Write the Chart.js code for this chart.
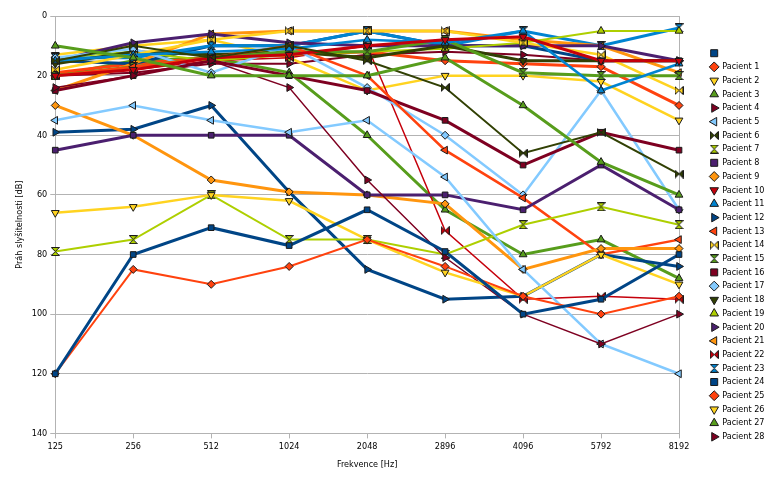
<!doctype html>
<html>
<head>
<meta charset="utf-8">
<title>Práh slyšitelnosti</title>
<script src="https://cdn.jsdelivr.net/npm/chart.js"></script>
<style>
  html, body { margin: 0; padding: 0; background: #fff; }
  #wrap { width: 768px; height: 480px; }
</style>
</head>
<body>
<div id="wrap"><canvas id="chart" width="768" height="480"></canvas></div>
<script>
const frequencies = ['125', '256', '512', '1024', '2048', '2896', '4096', '5792', '8192'];

// prah slysitelnosti v dB, jedna rada na pacienta
const pacient0  = [120, 80, 71, 77, 65, 79, 100, 95, 80];
const pacient1  = [120, 85, 90, 84, 75, 84, 94, 100, 94];
const pacient2  = [66, 64, 60, 62, 75, 86, 94, 80, 90];
const pacient3  = [10, 14, 20, 20, 20, 14, 30, 49, 60];
const pacient4  = [24, 20, 15, 24, 55, 81, 100, 110, 100];
const pacient5  = [35, 30, 35, 39, 35, 54, 85, 110, 120];
const pacient6  = [15, 10, 14, 10, 15, 24, 46, 39, 53];
const pacient7  = [79, 75, 60, 75, 75, 80, 70, 64, 70];
const pacient8  = [45, 40, 40, 40, 60, 60, 65, 50, 65];
const pacient9  = [30, 40, 55, 59, 60, 63, 85, 78, 78];
const pacient10 = [20, 18, 14, 13, 10, 8, 7, 15, 15];
const pacient11 = [15, 13, 12, 11, 8, 9, 5, 25, 16];
const pacient12 = [39, 38, 30, 59, 85, 95, 94, 80, 84];
const pacient13 = [20, 17, 14, 10, 20, 45, 61, 80, 75];
const pacient14 = [18, 13, 8, 5, 5, 5, 9, 13, 25];
const pacient15 = [20, 17, 14, 12, 12, 8, 19, 20, 20];
const pacient16 = [25, 20, 15, 20, 25, 35, 50, 39, 45];
const pacient17 = [14, 11, 19, 10, 24, 40, 60, 25, 65];
const pacient18 = [16, 12, 13, 12, 14, 10, 15, 15, 15];
const pacient19 = [14, 12, 15, 13, 12, 11, 9, 5, 5];
const pacient20 = [15, 9, 6, 9, 10, 10, 10, 10, 15];
const pacient21 = [25, 16, 6, 5, 5, 5, 8, 10, 19];
const pacient22 = [20, 18, 15, 14, 10, 72, 95, 94, 95];
const pacient23 = [14, 14, 10, 10, 5, 10, 5, 10, 4];
const pacient24 = [15, 16, 10, 10, 5, 10, 10, 15, 15];
const pacient25 = [19, 16, 14, 13, 12, 15, 16, 17, 30];
const pacient26 = [13, 10, 8, 14, 25, 20, 20, 22, 35];
const pacient27 = [20, 15, 14, 19, 40, 65, 80, 75, 88];
const pacient28 = [20, 19, 16, 16, 13, 12, 13, 15, 15];

const seriesNames = [''].concat(Array.from({ length: 28 }, (_, i) => 'Pacient ' + (i + 1)));
const seriesValues = [pacient0, pacient1, pacient2, pacient3, pacient4, pacient5, pacient6, pacient7,
  pacient8, pacient9, pacient10, pacient11, pacient12, pacient13, pacient14, pacient15, pacient16,
  pacient17, pacient18, pacient19, pacient20, pacient21, pacient22, pacient23, pacient24, pacient25,
  pacient26, pacient27, pacient28];

// paleta a symboly se opakuji jako v kancelarskem grafu
const palette = ['#004586', '#ff420e', '#ffd320', '#579d1c', '#7e0021', '#83caff', '#314004',
  '#aecf00', '#4b1f6f', '#ff950e', '#c5000b', '#0084d1'];
const symbols = ['square', 'diamond', 'down', 'up', 'right', 'left', 'bowtie', 'hourglass'];
const lineWidths = [3, 2, 2.5, 3, 1.5, 2.5, 2, 2, 3, 3, 3, 2.5, 3, 2.5, 2.5, 3, 3, 2.5, 3, 2, 3, 3,
  1.5, 3, 3, 3, 2.5, 3, 2];

const FONT = "'Liberation Sans Narrow', 'DejaVu Sans Condensed', 'Liberation Sans', sans-serif";

function makeMarker(kind, fill) {
  const s = 9;
  const c = document.createElement('canvas');
  c.width = s; c.height = s;
  const g = c.getContext('2d');
  g.beginPath();
  if (kind === 'bowtie') {
    g.moveTo(0.5, 0.5); g.lineTo(s / 2, s / 2); g.lineTo(0.5, s - 0.5); g.closePath();
    g.moveTo(s - 0.5, 0.5); g.lineTo(s / 2, s / 2); g.lineTo(s - 0.5, s - 0.5); g.closePath();
  } else {
    g.moveTo(0.5, 0.5); g.lineTo(s - 0.5, 0.5); g.lineTo(s / 2, s / 2); g.closePath();
    g.moveTo(0.5, s - 0.5); g.lineTo(s - 0.5, s - 0.5); g.lineTo(s / 2, s / 2); g.closePath();
  }
  g.fillStyle = fill; g.fill();
  g.strokeStyle = '#1a1a1a'; g.lineWidth = 1; g.stroke();
  return c;
}

function pointOpts(kind, color) {
  switch (kind) {
    case 'square': return { pointStyle: 'rect', pointRotation: 0, pointRadius: 4 };
    case 'diamond': return { pointStyle: 'rectRot', pointRotation: 0, pointRadius: 4 };
    case 'down': return { pointStyle: 'triangle', pointRotation: 180, pointRadius: 4.5 };
    case 'up': return { pointStyle: 'triangle', pointRotation: 0, pointRadius: 4.5 };
    case 'right': return { pointStyle: 'triangle', pointRotation: 90, pointRadius: 4.5 };
    case 'left': return { pointStyle: 'triangle', pointRotation: 270, pointRadius: 4.5 };
    default: return { pointStyle: makeMarker(kind, color), pointRotation: 0, pointRadius: 4.5 };
  }
}

const datasets = seriesValues.map((values, i) => {
  const color = palette[i % palette.length];
  return Object.assign({
    label: seriesNames[i],
    data: values,
    borderColor: color,
    backgroundColor: color,
    borderWidth: lineWidths[i],
    pointBackgroundColor: color,
    pointBorderColor: '#1a1a1a',
    pointBorderWidth: 1,
    tension: 0,
    clip: false
  }, pointOpts(symbols[i % symbols.length], color));
});

// legenda: pevna sirka pruhu vpravo, polozky posunute k pravemu okraji
const LEGEND_WIDTH = 89;
const LEGEND_SHIFT = 27;
const legendBox = {
  id: 'legendBox',
  beforeInit(chart) {
    const lg = chart.legend;
    if (!lg) return;
    const fit = lg.fit.bind(lg);
    lg.fit = function () { fit(); this.width = LEGEND_WIDTH; };
    const draw = lg.draw.bind(lg);
    lg.draw = function () {
      const ctx = this.ctx;
      ctx.save();
      ctx.translate(LEGEND_SHIFT, 0);
      draw();
      ctx.restore();
    };
  }
};

const frame = {
  id: 'frame',
  beforeDatasetsDraw(chart) {
    const a = chart.chartArea, ctx = chart.ctx;
    ctx.save();
    ctx.strokeStyle = '#b3b3b3';
    ctx.lineWidth = 1;
    ctx.beginPath();
    ctx.moveTo(Math.round(a.right) + 0.5, a.top);
    ctx.lineTo(Math.round(a.right) + 0.5, a.bottom);
    ctx.stroke();
    ctx.restore();
  }
};

new Chart(document.getElementById('chart'), {
  type: 'line',
  data: { labels: frequencies, datasets },
  plugins: [legendBox, frame],
  options: {
    responsive: false,
    animation: false,
    layout: { padding: { left: 10, right: 0, top: 16, bottom: 6 } },
    plugins: {
      tooltip: { enabled: false },
      legend: {
        position: 'right',
        labels: {
          usePointStyle: true,
          boxWidth: 7,
          boxHeight: 7,
          padding: 4.7,
          color: '#000',
          font: { family: FONT, size: 9 }
        }
      }
    },
    scales: {
      x: {
        offset: false,
        grid: { display: true, drawOnChartArea: false, color: '#b3b3b3', tickLength: 5 },
        border: { color: '#b3b3b3' },
        ticks: { color: '#000', font: { family: FONT, size: 9 }, maxRotation: 0, autoSkip: false },
        title: { display: true, text: 'Frekvence [Hz]', color: '#000', font: { family: FONT, size: 9 } }
      },
      y: {
        reverse: true,
        min: 0,
        max: 140,
        ticks: { stepSize: 20, color: '#000', font: { family: FONT, size: 9 } },
        grid: { color: '#b3b3b3', tickLength: 5 },
        border: { color: '#b3b3b3' },
        title: { display: true, text: 'Práh slyšitelnosti [dB]', color: '#000', font: { family: FONT, size: 9 } }
      }
    }
  }
});
</script>
</body>
</html>
